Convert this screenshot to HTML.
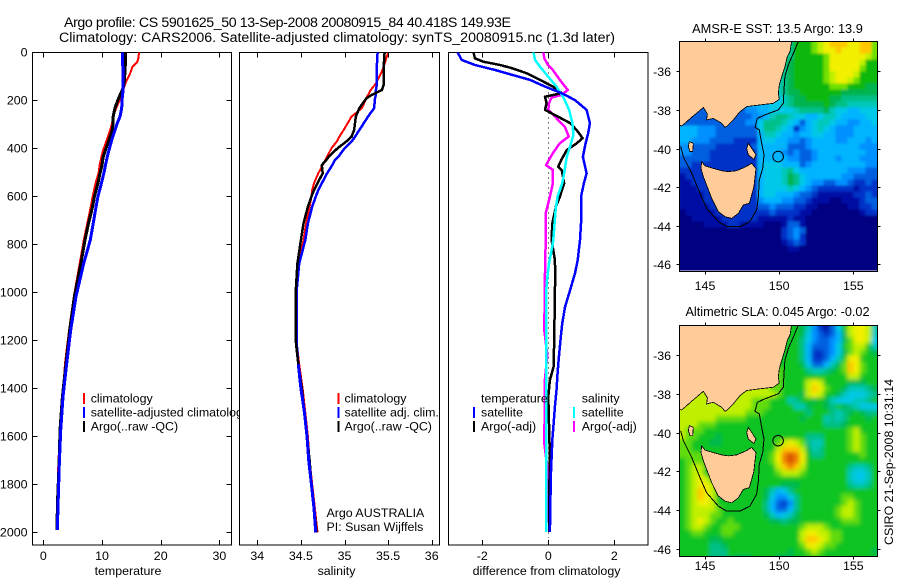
<!DOCTYPE html>
<html>
<head>
<meta charset="utf-8">
<title>Argo profile</title>
<style>
html,body{margin:0;padding:0;background:#fff;width:900px;height:580px;overflow:hidden}
svg{display:block}
text{font-family:"Liberation Sans",Arial,sans-serif;fill:#000}
</style>
</head>
<body>
<svg id="fig" xmlns="http://www.w3.org/2000/svg" width="900" height="580" viewBox="0 0 900 580">
  <defs>
    <clipPath id="clip-sst"><rect x="679.5" y="41" width="198" height="229.5"/></clipPath>
    <clipPath id="clip-sla"><rect x="679.5" y="325" width="198" height="231"/></clipPath>
    <clipPath id="clip-temp"><rect x="32.5" y="52.5" width="199" height="492.5"/></clipPath>
    <clipPath id="clip-sal"><rect x="239.5" y="52.5" width="200" height="492.5"/></clipPath>
    <clipPath id="clip-diff"><rect x="448.5" y="52.5" width="199.5" height="492.5"/></clipPath>
    <filter id="blur-sst" x="-5%" y="-5%" width="110%" height="110%"><feGaussianBlur stdDeviation="1.2"/></filter>
    <filter id="blur-sla" x="-5%" y="-5%" width="110%" height="110%"><feGaussianBlur stdDeviation="2.2"/></filter>
  </defs>

  <text x="64" y="27" font-size="14.2" textLength="447" lengthAdjust="spacing">Argo profile: CS 5901625_50 13-Sep-2008 20080915_84 40.418S 149.93E</text>
  <text x="59" y="42" font-size="14.2" textLength="556" lengthAdjust="spacing">Climatology: CARS2006. Satellite-adjusted climatology: synTS_20080915.nc (1.3d later)</text>
  <text x="777.5" y="33" font-size="12.8" text-anchor="middle">AMSR-E SST: 13.5 Argo: 13.9</text>
  <text x="777.5" y="316" font-size="12.7" text-anchor="middle">Altimetric SLA: 0.045 Argo: -0.02</text>
  <text transform="translate(893,545) rotate(-90)" font-size="12.4">CSIRO 21-Sep-2008 10:31:14</text>

  <g id="temp-panel"></g>
  <g id="sal-panel"></g>
  <g id="diff-panel"></g>
  <g id="sst-map"></g>
  <g id="sla-map"></g>
</svg>

<script>
// ---------- profile data ----------
const depths = [0,25,40,60,87,122,150,170,200,233,268,295,324,366,407,435,470,504,546,602,643,713,782,880,1018,1157,1297,1435,1575,1715,1853,1990];
const tempClim = [16.3,16.2,16.0,15.2,14.8,14.1,13.7,13.4,13.0,12.4,11.9,11.7,11.4,10.8,10.2,9.9,9.6,9.4,8.9,8.4,8.1,7.5,6.9,6.2,5.2,4.4,3.7,3.3,2.85,2.55,2.45,2.3];
const tempSat = [13.46,13.5,13.5,13.55,13.6,13.6,13.6,13.55,13.4,13.35,13.06,12.6,12.2,11.65,11.2,10.9,10.6,10.3,9.9,9.3,9.0,8.5,8.0,6.88,5.57,4.66,3.98,3.36,2.96,2.73,2.55,2.38];
const tempArgo = [14.0,14.0,14.0,13.95,13.9,13.8,13.6,13.2,12.7,12.2,11.9,11.9,11.75,11.2,10.6,10.2,10.0,9.66,9.3,8.7,8.4,7.7,7.1,6.4,5.3,4.5,3.87,3.25,2.85,2.7,2.45,2.3];

const salDepths = [0,60,87,122,135,157,178,192,233,268,324,352,372,400,435,449,470,504,546,574,602,643,713,782,880,1000,1100,1200,1300,1400,1500,1600,1700,1800,1900,2000];
const salClim = [35.5,35.45,35.42,35.37,35.35,35.3,35.27,35.25,35.2,35.08,34.99,34.94,34.91,34.85,34.8,34.78,34.75,34.7,34.65,34.63,34.62,34.6,34.56,34.53,34.47,34.45,34.45,34.45,34.48,34.52,34.55,34.58,34.6,34.63,34.66,34.69];
const salSat = [35.38,35.37,35.37,35.37,35.37,35.36,35.36,35.35,35.34,35.27,35.17,35.12,35.08,35.0,34.93,34.89,34.86,34.8,34.74,34.7,34.67,34.63,34.58,34.55,34.48,34.45,34.45,34.45,34.47,34.5,34.54,34.57,34.59,34.62,34.65,34.67];
const salArgo = [35.46,35.45,35.45,35.45,35.45,35.43,35.31,35.25,35.17,35.13,35.11,35.08,35.02,34.92,34.82,34.79,34.74,34.75,34.69,34.65,34.62,34.58,34.53,34.5,34.46,34.44,34.44,34.44,34.47,34.51,34.54,34.57,34.6,34.62,34.65,34.68];

const diffTempSatDepths = [0,32,53,74,95,115,143,170,199,240,295,337,379,435,504,546,602,713,782,866,921,991,1060,1130,1199,1269,1340,1408,1477,1547,1617,1756,1893,1998];
const diffTempSat = [-2.75,-2.62,-2.22,-1.6,-1.07,-0.55,-0.1,0.4,0.81,1.16,1.26,1.21,1.13,1.05,1.16,1.08,0.99,0.99,0.96,0.89,0.81,0.66,0.51,0.42,0.37,0.32,0.28,0.25,0.2,0.16,0.12,0.08,0.06,0.05];
const diffTempArgoDepths = [0,25,39,53,66,87,115,143,170,185,212,240,268,295,324,358,379,407,449,477,491,546,602,643,713,782,866,921,1005,1199,1310,1366,1435,1547,1686,1893,1998];
const diffTempArgo = [-2.27,-2.22,-1.97,-1.46,-1.11,-0.66,-0.25,0.14,0.41,-0.1,-0.05,-0.1,0.29,0.66,0.86,1.04,0.86,0.56,0.39,0.3,0.41,0.48,0.35,0.23,0.12,0.1,0.2,0.21,0.2,0.18,0.16,0.05,0.0,0.02,0.05,0.02,0.02];
const diffSalSatDepths = [0,32,60,102,143,185,240,295,344,393,435,504,546,602,657,782,824,880,963,1060,1400,1700,1998];
const diffSalSat = [-0.45,-0.4,-0.25,0,0.25,0.45,0.63,0.73,0.76,0.66,0.56,0.48,0.42,0.28,0.22,0.15,0.1,0.02,-0.05,-0.07,-0.07,-0.07,-0.07];
const diffSalArgoDepths = [0,25,53,74,115,157,178,188,212,240,268,310,351,379,420,470,490,546,602,671,782,921,1157,1262,1360,1630,1728,1960];
const diffSalArgo = [-0.15,-0.12,-0.01,0.14,0.35,0.59,0.4,0.1,0.02,0,0.2,0.5,0.62,0.35,0.14,-0.07,0.14,0.14,0.05,-0.08,-0.08,-0.1,-0.12,-0.03,-0.1,-0.12,-0.03,0];

const depthTicks = [0,200,400,600,800,1000,1200,1400,1600,1800,2000];
const tempTicks = [0,10,20,30];
const salTicks = [34,34.5,35,35.5,36];
const diffTicks = [-2,0,2];
const lonTicks = [145,150,155];
const latTicks = [-36,-38,-40,-42,-44,-46];

// ---------- map data ----------
const argoLon = 149.93;
const argoLat = -40.418;
const mapLonStart = 143.28;
const mapLatStart = -34.46;
const cellLon = 0.4046;
const cellLat = 0.3109;
const sstPalette = ['#000080','#0010a4','#0030c8','#0060e0','#0090ff','#00b4ff','#00c8e8','#00c8b8','#00c088','#00b450','#08b810','#70e000','#c0f000','#f0f000','#ffc800','#f08000','#d85000'];
const slaPalette = ['#000080','#0010a4','#0030c8','#0060e0','#0090ff','#00b4ff','#00c8e8','#00c8b8','#00c088','#00b850','#10c424','#60dc10','#c0f000','#f0f000','#ffc800','#f08000','#d85000'];
const sstGrid = [
"8888888888888888888aaabcdeeeddeeb",
"8888888888888888888aaabcddedddeeb",
"8888888888888888888aaaaabddddddcb",
"8888888888888888889aaaaabdddddcaa",
"8888888888888888889aaaaabdddddbaa",
"8888888888888888889aaaaabcdddcaaa",
"7777777777777777789aaaaabcddcbaaa",
"7777777777777777789aaaaaabbbaaa99",
"77777777777777777899aaaaaaa999999",
"666666666666666667899aaaa99888888",
"555555555555555667899 99a98877777".replace(' ','9'),
"333333333334455666678888976655666",
"333333333333445788766556776555566",
"333333333334468887653567765544556",
"555444333333368876524567654445555",
"555444333333357765545566554445555",
"554443333222256655443455554455545",
"443333222222355555333455555555444",
"443332222222255554343345555555544",
"333332222222255555443345554555444",
"332222222222256665553455555555544",
"222222222222256667865555555544433",
"122222222222256667986555555443333",
"112222222222256667986544334432232",
"111222222222256666765432222221222",
"111122222222256655543321111112232",
"111122222222245554433211100111233",
"111112222222233433322110000011223",
"011111222222222322221100000000122",
"001111122222211111211000000000000",
"000011112211110001331000000000000",
"000000000000000002343000000000000",
"000000000000000002342000000000000",
"000000000000000001232000000000000",
"000000000000000000110000000000000",
"000000000000000000000000000000000",
"000000000000000000000000000000000",
"000000000000000000000000000000000",
"000000000000000000000000000000000"
];
const slaGrid = [
"aaaaaaaaaaaaaaaaaaaa97"+"42136acddc7",
"aaaaaaaaaaaaaaaaaaaa96"+"432359cddc7",
"aaaaaaaaaaaaaaaaaaaa86"+"433459bddc6",
"aaaaaaaaaaaaaaaaaaaa85"+"33346abcca7",
"aaaaaaaaaaaaaaaaaaaa85"+"223469bcba9",
"aaaaaaaaaaaaaaaaaaaa85"+"22357addaaa",
"aaaaaaaaaaaaaaaaaaaa96"+"33579bedbaa",
"aaaaaaaaaaaaaaaabaaaa8"+"7789abedbaa",
"aaaaaaaaaaaaaaaabaaaaa"+"aaaaaaccaaa",
"aaaaaaaaaaaaaaabbaaaac"+"dcaaaa999aa",
"cccccccccccccccbbaaaac"+"edbaa977789",
"cccccccccbccccccbaaa9c"+"dcaa9766678",
"cccccccbccccbbbaaa78aa"+"9a97666778a".slice(0,11),
"ccccccccccccbbbaaaa779"+"aa98a987666",
"cccccccccccbbbaaaaaaa8"+"aaa8789a988",
"ccccccbbbbbaaaaaaaaa9a"+"aa7878aaa9a",
"cccbbbaaaaaaaaaaaaaaaa"+"aa8889aaaaa",
"cbbbaaaaaaaaaaaaaaaaaa"+"aaaaaabcaaa",
"cbbaaa9aaaaaaaaaaaaaa8"+"88aaaabcbaa",
"bbaaa99aaaaaaaaabcdcb8"+"77aaaabcbaa",
"bbaaaaaaaaaaaaaaceeec9"+"78aaaabcbaa",
"bbbbaaaaaaaaaaabdfgfda"+"88aaaaaabaa",
"abbbaaaaaaaaaaabdfgfda"+"aaaaaaaaaaa",
"abccaaaaaaaaaaaacefeca"+"aaaaaa8778a",
"abccaaaaaaaaaaaabcccba"+"aaaaaa7667a",
"abcdcaaaaaaaaaaaaaaaaa"+"aaaaaa7667a",
"abcddcaaaaaaaaaaa999aa"+"aaaaaa8778a".slice(0,11),
"abcedcaaaaaaaa97568aaa"+"aaaaaaaaaaa",
"abcedcaaaaaaaa964468aa"+"aaaaabbaaaa",
"abcddcaaaaaaaa853248aa"+"aaaaabcbaaa",
"abccccbaaaaaaa853358aa"+"aaaabccbaaa",
"abcccbbaaaaaaa975679aa"+"aaaabccbaaa",
"abcdcbaabaaaaaa99899aa"+"aaaaabbbaaa",
"abccbaabbbaaaaaaaaaabc"+"ccbaaaaaaaa",
"aabbaaabbaaaaaaaaaaacd"+"dccbbaaaaaa",
"aaaaa99aaaaaaaaaaaaace"+"edcbbaaaaaa",
"aaaaa889aaaaaaaaaaaabd"+"dcbbaaaaaaa",
"aaaaa888aaaaaaaaaa9aab"+"cbaaaaaaaa9",
"aaaaa888a999aaaa999aaa"+"aaaaaaaaaaa"
];

const mainlandLon = [150.84,150.73,150.55,150.39,150.17,150.01,149.94,150.01,149.61,148.71,147.81,147.36,146.91,146.51,146.35,146.12,145.56,145.11,145.16,144.89,144.48,144.10,143.65,143.43,143.27,143.27];
const mainlandLat = [-34.45,-34.98,-35.24,-35.76,-36.28,-36.71,-37.14,-37.45,-37.66,-37.74,-37.83,-38.09,-38.52,-38.83,-38.90,-38.69,-38.44,-38.52,-38.21,-37.87,-38.14,-38.38,-38.69,-38.83,-38.78,-34.45];
const tasmaniaLon = [144.78,145.0,145.56,146.12,146.57,147.13,147.70,148.15,148.44,148.37,148.30,148.15,147.99,147.58,147.25,146.80,146.35,145.90,145.45,145.11,144.89,144.73];
const tasmaniaLat = [-40.68,-40.90,-41.03,-41.15,-41.20,-41.15,-40.97,-40.77,-41.03,-41.46,-41.98,-42.41,-42.84,-42.93,-43.36,-43.62,-43.53,-43.27,-42.58,-41.89,-41.46,-41.03];
const kingLon = [143.94,144.21,144.17,143.99,143.88];
const kingLat = [-39.64,-39.73,-40.16,-40.16,-39.90];
const flindersLon = [147.92,148.15,148.44,148.30,147.92,147.81];
const flindersLat = [-39.73,-39.99,-40.33,-40.56,-40.33,-39.99];
const isobathLon = [151.29,150.96,150.62,150.39,150.33,150.28,149.94,149.04,148.53,148.37,148.66,148.82,148.98,148.89,148.66,148.60,148.48,148.03,147.36,146.46,145.90,145.11,144.66,144.10,143.54,143.36];
const isobathLat = [-34.45,-35.07,-35.67,-36.28,-36.97,-37.66,-38.0,-38.26,-38.44,-38.90,-39.04,-39.73,-40.33,-41.03,-41.63,-42.49,-43.18,-43.79,-44.05,-44.05,-43.79,-43.10,-42.32,-41.28,-40.42,-39.90];

// ---------- scales ----------
const NS = 'http://www.w3.org/2000/svg';
const yDepth = d => 52.3 + d * 0.24;
const xTemp = v => 43.3 + v * 5.87;
const xSal = v => 257.3 + (v - 34) * 87.2;
const xDiff = v => 548.3 + v * 33;
const xLon = v => 705 + (v - 145) * 14.83;
const ySst = v => 71.3 + (-36 - v) * 19.3;
const ySla = v => 355 + (-36 - v) * 19.4;

function make(parent, tag, attrs, txt) {
  const el = document.createElementNS(NS, tag);
  for (const k in attrs) el.setAttribute(k, attrs[k]);
  if (txt !== undefined) el.textContent = txt;
  parent.appendChild(el);
  return el;
}
function pathFrom(xs, ys, xf, yf, close) {
  let d = '';
  for (let i = 0; i < xs.length; i++) d += (i ? 'L' : 'M') + xf(xs[i]).toFixed(1) + ' ' + yf(ys[i]).toFixed(1);
  return d + (close ? 'Z' : '');
}
function profile(parent, clip, ds, vs, xf, color, w, name) {
  const d = pathFrom(vs, ds, xf, yDepth, false);
  const el = make(parent, 'path', {d: d, fill: 'none', stroke: color, 'stroke-width': w, 'clip-path': 'url(#' + clip + ')', 'shape-rendering': 'crispEdges', 'stroke-linejoin': 'round'});
  
  
}
function frame(parent, x, y, w, h, fill) {
  const el = make(parent, 'rect', {x: x, y: y, width: w, height: h, fill: fill, stroke: '#000', 'stroke-width': 1, 'shape-rendering': 'crispEdges'});
  
  
  return el;
}
function bottomAxis(parent, ticks, xf, top, bottom, label, labelX, name) {
  ticks.forEach(t => {
    const x = Math.round(xf(t)) + 0.5;
    const a = make(parent, 'line', {x1: x, x2: x, y1: bottom, y2: bottom - 5, stroke: '#000', 'shape-rendering': 'crispEdges'});
    
    
    const b = make(parent, 'line', {x1: x, x2: x, y1: top, y2: top + 5, stroke: '#000', 'shape-rendering': 'crispEdges'});
    
    
    const l = make(parent, 'text', {x: xf(t), y: 560, 'font-size': 12.4, 'text-anchor': 'middle'}, String(t));
    
    
  });
  const tl = make(parent, 'text', {x: labelX, y: 575, 'font-size': 12.4, 'text-anchor': 'middle'}, label);
  
  
}
function legendEntry(parent, mx, tx, y, color, label, name) {
  const m = make(parent, 'rect', {x: mx - 1, y: y - 5, width: 2, height: 11, fill: color, 'shape-rendering': 'crispEdges'});
  
  
  const t = make(parent, 'text', {x: tx, y: y + 4.5, 'font-size': 12.4}, label);
  
  
}

// ---------- temperature panel ----------
const tp = document.getElementById('temp-panel');
frame(tp, 32.5, 52.5, 199, 492.5, '#fff');
profile(tp, 'clip-temp', depths, tempClim, xTemp, '#ff0000', 2, 'temperature-climatology-line');
profile(tp, 'clip-temp', depths, tempArgo, xTemp, '#000000', 3, 'temperature-argo-line');
profile(tp, 'clip-temp', depths, tempSat, xTemp, '#0000ff', 3, 'temperature-satellite-line');
bottomAxis(tp, tempTicks, xTemp, 52.5, 545, 'temperature', 128, 'temperature-axis-title');
depthTicks.forEach(d => {
  const y = Math.round(yDepth(d)) + 0.5;
  if (d > 0) {
    const a = make(tp, 'line', {x1: 32.5, x2: 37.5, y1: y, y2: y, stroke: '#000', 'shape-rendering': 'crispEdges'});
    
    
    const b = make(tp, 'line', {x1: 226.5, x2: 231.5, y1: y, y2: y, stroke: '#000', 'shape-rendering': 'crispEdges'});
    
    
  }
  const l = make(tp, 'text', {x: 27.5, y: y + 4, 'font-size': 12.4, 'text-anchor': 'end'}, String(d));
  
  
});
legendEntry(tp, 84, 90.7, 398, '#ff0000', 'climatology', 'legend-temperature-climatology');
legendEntry(tp, 84, 90.7, 412, '#0000ff', 'satellite-adjusted climatology', 'legend-temperature-satellite');
legendEntry(tp, 84, 90.7, 426, '#000000', 'Argo(..raw -QC)', 'legend-temperature-argo');

// ---------- salinity panel ----------
const sp = document.getElementById('sal-panel');
frame(sp, 239.5, 52.5, 200, 492.5, '#fff');
profile(sp, 'clip-sal', salDepths, salClim, xSal, '#ff0000', 2, 'salinity-climatology-line');
profile(sp, 'clip-sal', salDepths, salSat, xSal, '#0000ff', 2.5, 'salinity-satellite-line');
profile(sp, 'clip-sal', salDepths, salArgo, xSal, '#000000', 2.5, 'salinity-argo-line');
profile(sp, 'clip-sal', salDepths.slice(-8), salSat.slice(-8), xSal, '#0000ff', 3, 'salinity-satellite-deep-line');
bottomAxis(sp, salTicks, xSal, 52.5, 545, 'salinity', 336.5, 'salinity-axis-title');
legendEntry(sp, 338.5, 344.5, 398, '#ff0000', 'climatology', 'legend-salinity-climatology');
legendEntry(sp, 338.5, 344.5, 412, '#0000ff', 'satellite adj. clim.', 'legend-salinity-satellite');
legendEntry(sp, 338.5, 344.5, 426, '#000000', 'Argo(..raw -QC)', 'legend-salinity-argo');
const noteA = make(sp, 'text', {x: 326.5, y: 517, 'font-size': 12.4}, 'Argo AUSTRALIA');


const noteB = make(sp, 'text', {x: 326.5, y: 531, 'font-size': 12.4}, 'PI: Susan Wijffels');



// ---------- difference panel ----------
const dp = document.getElementById('diff-panel');
frame(dp, 448.5, 52.5, 199.5, 492.5, '#fff');
const zeroLine = make(dp, 'line', {x1: 548.5, x2: 548.5, y1: 52.5, y2: 538, stroke: '#000', 'stroke-dasharray': '1 4', 'shape-rendering': 'crispEdges'});


profile(dp, 'clip-diff', diffSalArgoDepths, diffSalArgo, xDiff, '#ff00ff', 2.5, 'difference-salinity-argo-line');
profile(dp, 'clip-diff', diffTempArgoDepths, diffTempArgo, xDiff, '#000000', 2.5, 'difference-temperature-argo-line');
profile(dp, 'clip-diff', diffSalSatDepths, diffSalSat, xDiff, '#00ffff', 2.5, 'difference-salinity-satellite-line');
profile(dp, 'clip-diff', diffTempSatDepths, diffTempSat, xDiff, '#0000ff', 2.5, 'difference-temperature-satellite-line');
bottomAxis(dp, diffTicks, xDiff, 52.5, 545, 'difference from climatology', 546.5, 'difference-axis-title');
const lgT = make(dp, 'text', {x: 481, y: 402.5, 'font-size': 12.4}, 'temperature');


const lgS = make(dp, 'text', {x: 581.7, y: 402.5, 'font-size': 12.4}, 'salinity');


legendEntry(dp, 474, 481, 412, '#0000ff', 'satellite', 'legend-difference-temperature-satellite');
legendEntry(dp, 474, 481, 426, '#000000', 'Argo(-adj)', 'legend-difference-temperature-argo');
legendEntry(dp, 574, 581.7, 412, '#00ffff', 'satellite', 'legend-difference-salinity-satellite');
legendEntry(dp, 574, 581.7, 426, '#ff00ff', 'Argo(-adj)', 'legend-difference-salinity-argo');

// ---------- maps ----------
function drawMap(parent, grid, palette, yf, clip, top, bottom, labelY, mapName, blurId) {
  const g = make(parent, 'g', {'clip-path': 'url(#' + clip + ')'});
  
  
  const cells = make(g, 'g', {id: mapName + '-cells'});
  
  
  grid.forEach((row, j) => {
    for (let i = 0; i < row.length; i++) {
      const v = parseInt(row[i], 36);
      const lon = mapLonStart + i * cellLon;
      const lat = mapLatStart - j * cellLat;
      const x0 = xLon(lon), x1 = xLon(lon + cellLon);
      const y0 = yf(lat), y1 = yf(lat - cellLat);
      const c = make(cells, 'rect', {x: x0.toFixed(2), y: y0.toFixed(2), width: (x1 - x0 + 0.4).toFixed(2), height: (y1 - y0 + 0.4).toFixed(2), fill: palette[v], 'shape-rendering': 'crispEdges'});
      
      
    }
  });
  const soft = make(g, 'use', {href: '#' + mapName + '-cells', filter: 'url(#' + blurId + ')'});
  
  
  const polys = [[mainlandLon, mainlandLat, 'mainland'], [tasmaniaLon, tasmaniaLat, 'tasmania'], [kingLon, kingLat, 'king-island'], [flindersLon, flindersLat, 'flinders-island']];
  polys.forEach(p => {
    const el = make(g, 'path', {d: pathFrom(p[0], p[1], xLon, yf, true), fill: '#ffcc99', stroke: '#000', 'stroke-width': 0.8, 'shape-rendering': 'crispEdges'});
    
    
  });
  const iso = make(g, 'path', {d: pathFrom(isobathLon, isobathLat, xLon, yf, false), fill: 'none', stroke: '#000', 'stroke-width': 1, 'shape-rendering': 'crispEdges'});
  
  
  const pt = make(g, 'circle', {cx: xLon(argoLon), cy: yf(argoLat), r: 5.3, fill: 'none', stroke: '#000', 'stroke-width': 1});
  
  
  frame(parent, 679.5, top, 198, bottom - top, 'none');
  lonTicks.forEach(t => {
    const x = Math.round(xLon(t)) + 0.5;
    const a = make(parent, 'line', {x1: x, x2: x, y1: bottom, y2: bottom + 3, stroke: '#000', 'shape-rendering': 'crispEdges'});
    
    
    const b = make(parent, 'line', {x1: x, x2: x, y1: top - 3, y2: top, stroke: '#000', 'shape-rendering': 'crispEdges'});
    
    
    const l = make(parent, 'text', {x: xLon(t), y: labelY, 'font-size': 12.4, 'text-anchor': 'middle'}, String(t));
    
    
  });
  latTicks.forEach(t => {
    const y = Math.round(yf(t)) + 0.5;
    const a = make(parent, 'line', {x1: 676.5, x2: 679.5, y1: y, y2: y, stroke: '#000', 'shape-rendering': 'crispEdges'});
    
    
    const b = make(parent, 'line', {x1: 877.5, x2: 880.5, y1: y, y2: y, stroke: '#000', 'shape-rendering': 'crispEdges'});
    
    
    const l = make(parent, 'text', {x: 671, y: y + 4.5, 'font-size': 12.4, 'text-anchor': 'end'}, String(t));
    
    
  });
}
drawMap(document.getElementById('sst-map'), sstGrid, sstPalette, ySst, 'clip-sst', 41.5, 271.5, 290, 'sst-map', 'blur-sst');
drawMap(document.getElementById('sla-map'), slaGrid, slaPalette, ySla, 'clip-sla', 325.5, 556.5, 570, 'sla-map', 'blur-sla');
</script>
</body>
</html>
